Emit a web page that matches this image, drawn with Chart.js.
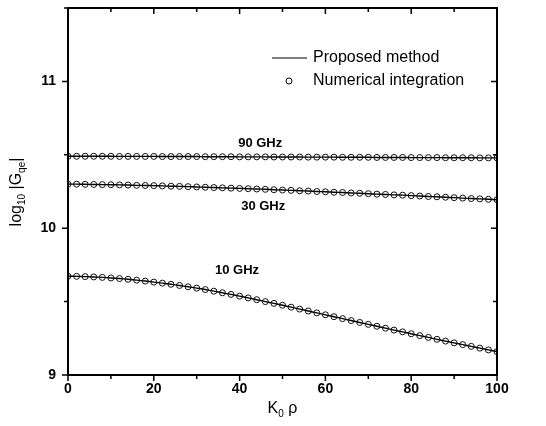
<!DOCTYPE html>
<html>
<head>
<meta charset="utf-8">
<script src="https://cdn.jsdelivr.net/npm/chart.js@4/dist/chart.umd.min.js"></script>
<style>
  body { margin: 0; background: #fff; }
  #wrap { width: 546px; height: 426px; }
</style>
</head>
<body>
<div id="wrap"><canvas id="gqe" width="546" height="426"></canvas></div>
<script>
// K0*rho sample points (every 2)
const k0rho = [0, 2, 4, 6, 8, 10, 12, 14, 16, 18, 20, 22, 24, 26, 28, 30, 32, 34, 36, 38, 40,
  42, 44, 46, 48, 50, 52, 54, 56, 58, 60, 62, 64, 66, 68, 70, 72, 74, 76, 78, 80,
  82, 84, 86, 88, 90, 92, 94, 96, 98, 100];

// log10 |Gqe| at 90 GHz
const g90 = [10.490, 10.490, 10.490, 10.490, 10.490, 10.490, 10.489, 10.489, 10.489, 10.489, 10.489,
  10.488, 10.488, 10.488, 10.488, 10.488, 10.487, 10.487, 10.487, 10.487, 10.486,
  10.486, 10.486, 10.486, 10.485, 10.485, 10.485, 10.485, 10.484, 10.484, 10.484,
  10.484, 10.483, 10.483, 10.483, 10.483, 10.482, 10.482, 10.482, 10.482, 10.481,
  10.481, 10.481, 10.481, 10.480, 10.480, 10.480, 10.480, 10.479, 10.479, 10.479];

// log10 |Gqe| at 30 GHz
const g30 = [10.300, 10.300, 10.299, 10.298, 10.297, 10.296, 10.295, 10.294, 10.292, 10.291, 10.290,
  10.288, 10.286, 10.285, 10.283, 10.281, 10.279, 10.277, 10.275, 10.273, 10.271,
  10.269, 10.267, 10.265, 10.262, 10.260, 10.258, 10.255, 10.253, 10.250, 10.248,
  10.245, 10.243, 10.240, 10.238, 10.235, 10.232, 10.230, 10.227, 10.225, 10.222,
  10.219, 10.216, 10.214, 10.211, 10.208, 10.205, 10.202, 10.200, 10.197, 10.194];

// log10 |Gqe| at 10 GHz
const g10 = [9.673, 9.672, 9.670, 9.668, 9.665, 9.661, 9.657, 9.652, 9.646, 9.640, 9.633,
  9.626, 9.618, 9.610, 9.601, 9.592, 9.582, 9.571, 9.560, 9.549, 9.537,
  9.525, 9.513, 9.500, 9.488, 9.475, 9.462, 9.449, 9.436, 9.423, 9.410,
  9.397, 9.384, 9.371, 9.358, 9.345, 9.332, 9.319, 9.306, 9.294, 9.281,
  9.268, 9.256, 9.243, 9.231, 9.219, 9.207, 9.195, 9.183, 9.171, 9.159];

const freqNames = ['90 GHz', '30 GHz', '10 GHz'];
const freqSeries = [g90, g30, g10];
const xTickMarks = [0, 10, 20, 30, 40, 50, 60, 70, 80, 90, 100];
const yTickMarks = [9, 9.5, 10, 10.5, 11, 11.5];
const yLabels = [9, 10, 11];

// where each frequency name sits (data coords)
const nameSpots = [[44.8, 10.575], [45.5, 10.145], [39.4, 9.71]];

const FONT = '"Liberation Sans", Arial, sans-serif';

const toPts = arr => arr.map((v, i) => ({ x: k0rho[i], y: v }));

const datasets = [];
freqSeries.forEach((s, i) => {
  datasets.push({
    label: 'Proposed method ' + freqNames[i],
    data: toPts(s),
    borderColor: '#000',
    borderWidth: 1.4,
    pointRadius: 0,
    tension: 0.3,
    order: 2
  });
  datasets.push({
    label: 'Numerical integration ' + freqNames[i],
    data: toPts(s),
    showLine: false,
    pointStyle: 'circle',
    pointRadius: 3,
    pointBorderWidth: 1,
    pointBorderColor: '#111',
    pointBackgroundColor: 'rgba(255,255,255,0)',
    order: 1
  });
});

// text with subscripts, drawn from left at (x, y)
function richText(ctx, parts, x, y, size) {
  let cx = x;
  parts.forEach(p => {
    ctx.font = (p.sub ? Math.round(size * 0.65) : size) + 'px ' + FONT;
    ctx.fillText(p.t, cx, p.sub ? y + size * 0.3 : y);
    cx += ctx.measureText(p.t).width;
  });
}
function richWidth(ctx, parts, size) {
  let w = 0;
  parts.forEach(p => {
    ctx.font = (p.sub ? Math.round(size * 0.65) : size) + 'px ' + FONT;
    w += ctx.measureText(p.t).width;
  });
  return w;
}

const decor = {
  id: 'decor',
  afterDraw(chart) {
    const { ctx, chartArea: a, scales: { x, y } } = chart;
    ctx.save();
    ctx.strokeStyle = '#000';
    ctx.fillStyle = '#000';

    // frame
    ctx.lineWidth = 2;
    ctx.strokeRect(a.left, a.top, a.right - a.left, a.bottom - a.top);

    // tick marks: outward on bottom/left, inward on top/right
    ctx.lineWidth = 1.5;
    ctx.beginPath();
    xTickMarks.forEach(v => {
      const px = x.getPixelForValue(v);
      const len = v % 20 === 0 ? 6 : 4;
      ctx.moveTo(px, a.bottom); ctx.lineTo(px, a.bottom + len);
      ctx.moveTo(px, a.top); ctx.lineTo(px, a.top + len);
    });
    yTickMarks.forEach(v => {
      const py = y.getPixelForValue(v);
      const len = Number.isInteger(v) ? 6 : 4;
      ctx.moveTo(a.left, py); ctx.lineTo(a.left - len, py);
      ctx.moveTo(a.right, py); ctx.lineTo(a.right - len, py);
    });
    ctx.stroke();

    // frequency names
    ctx.font = 'bold 13px ' + FONT;
    ctx.textAlign = 'center';
    ctx.textBaseline = 'middle';
    freqNames.forEach((n, i) => {
      ctx.fillText(n, x.getPixelForValue(nameSpots[i][0]), y.getPixelForValue(nameSpots[i][1]));
    });

    // legend
    ctx.textAlign = 'left';
    ctx.font = '16px ' + FONT;
    const lx = a.left + 204, ly1 = a.top + 50, ly2 = a.top + 73;
    ctx.lineWidth = 1.2;
    ctx.beginPath();
    ctx.moveTo(lx, ly1); ctx.lineTo(lx + 35, ly1);
    ctx.stroke();
    ctx.fillText('Proposed method', lx + 41, ly1);
    ctx.lineWidth = 1;
    ctx.beginPath();
    ctx.arc(lx + 17, ly2, 3, 0, Math.PI * 2);
    ctx.stroke();
    ctx.fillText('Numerical integration', lx + 41, ly2);

    // x title: K0 rho
    const xt = [{ t: 'K' }, { t: '0', sub: true }, { t: ' \u03c1' }];
    const xw = richWidth(ctx, xt, 16);
    richText(ctx, xt, (a.left + a.right) / 2 - xw / 2, 409, 16);

    // y title: log10 |Gqe|
    const yt = [{ t: 'log' }, { t: '10', sub: true }, { t: ' |G' }, { t: 'qe', sub: true }, { t: '|' }];
    const yw = richWidth(ctx, yt, 16);
    ctx.translate(17, 192);
    ctx.rotate(-Math.PI / 2);
    richText(ctx, yt, -yw / 2, 0, 16);

    ctx.restore();
  }
};

new Chart(document.getElementById('gqe'), {
  type: 'line',
  data: { datasets },
  options: {
    responsive: false,
    animation: false,
    layout: { padding: { top: 8, right: 49, left: 0, bottom: 0 } },
    plugins: { legend: { display: false }, tooltip: { enabled: false } },
    scales: {
      x: {
        type: 'linear',
        min: 0,
        max: 100,
        grid: { display: false, drawTicks: false },
        border: { display: false },
        ticks: { stepSize: 20, color: '#000', padding: 6, font: { family: FONT, size: 14, weight: 'bold' } },
        afterFit: s => { s.height = 51; s.paddingLeft = 0; s.paddingRight = 0; }
      },
      y: {
        min: 9,
        max: 11.5,
        grid: { display: false, drawTicks: false },
        border: { display: false },
        afterBuildTicks: s => { s.ticks = yLabels.map(v => ({ value: v })); },
        ticks: { color: '#000', padding: 12, font: { family: FONT, size: 14, weight: 'bold' } },
        afterFit: s => { s.width = 68; s.paddingTop = 0; s.paddingBottom = 0; }
      }
    }
  },
  plugins: [decor]
});
</script>
</body>
</html>
